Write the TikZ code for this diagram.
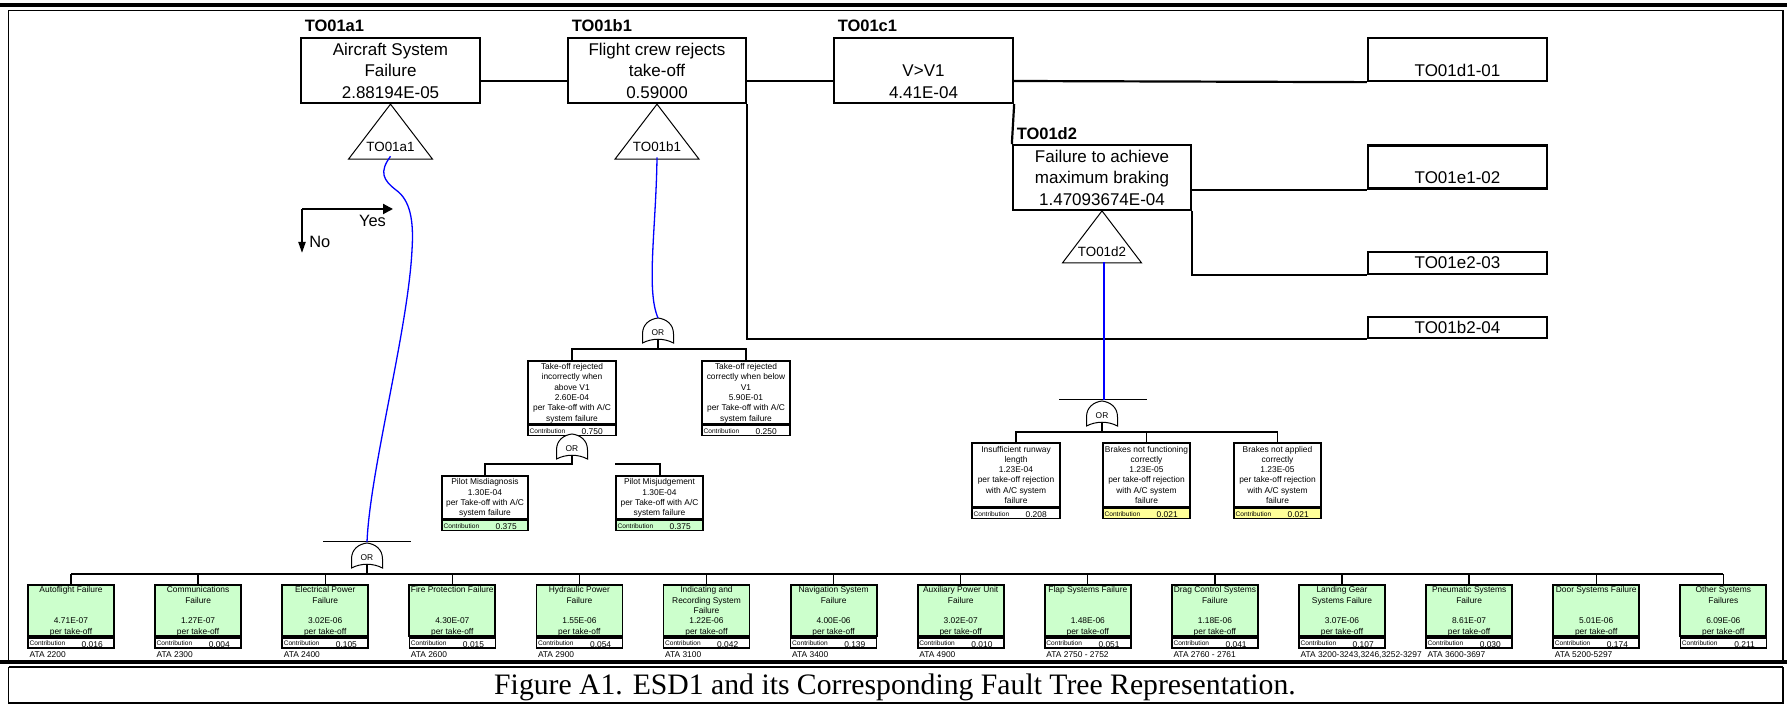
\documentclass[tikz,border=0pt]{standalone}
\usepackage{fontspec}
\setmainfont{Liberation Sans}
\newfontfamily\captionserif{Liberation Serif}
\usetikzlibrary{arrows.meta,calc}

\definecolor{cellgreen}{HTML}{CCFFCC}
\definecolor{cellyellow}{HTML}{FFFF99}
\definecolor{linkblue}{HTML}{0000FF}

\newcommand\fsz[2]{\fontsize{#1}{#2}\selectfont}
% strut that centres the capitals of a line inside its line slot
\newcommand\linestrut{\rule[-0.215\baselineskip]{0pt}{\baselineskip}}

\tikzset{
  event/.style={draw, line width=1.15pt, inner sep=0pt, align=center, font=\fsz{8.5pt}{10.75pt}},
  tag/.style={inner sep=0pt, anchor=base west, font=\bfseries\fsz{8.25pt}{10pt}},
  seq/.style={line width=1.1pt},
  transfer/.style={line width=0.5pt},
  trilabel/.style={inner sep=0pt, font=\fsz{6.7pt}{8pt}},
  cell/.style={draw, line width=0.9pt, inner sep=0pt, align=center, font=\fsz{4.2pt}{5.15pt}},
  crow/.style={draw, line width=0.8pt, inner sep=0pt},
  clabel/.style={inner sep=0pt, anchor=base west, font=\fsz{3.3pt}{4pt}},
  cvalue/.style={inner sep=0pt, anchor=base, font=\fsz{4.2pt}{5pt}},
  ata/.style={inner sep=0pt, anchor=base west, font=\fsz{4.2pt}{5pt}},
  wire/.style={line width=1pt},
  midwire/.style={line width=0.85pt},
  thinwire/.style={line width=0.65pt},
  bar/.style={line width=0.5pt},
  tree/.style={draw=linkblue, line width=0.65pt},
  legend/.style={inner sep=0pt, font=\fsz{8.2pt}{10pt}},
  orgate/.pic={
    \draw[line width=0.5pt, fill=white] (-15.5,0) -- (-15.5,-9)
      .. controls (-15.5,-19) and (-8,-24) .. (0,-25)
      .. controls (8,-24) and (15.5,-19) .. (15.5,-9) -- (15.5,0)
      .. controls (6,-5) and (-6,-5) .. cycle;
    \node[inner sep=0pt, font=\fsz{4.2pt}{5pt}] (-lbl) at (0,-10.5) {OR};
    \coordinate (-top) at (0,-25);
    \coordinate (-bar) at (0,-26);
    \coordinate (-out) at (0,-3.75);
  }
}

% #1 name, #2 x centre, #3 top, #4 width, #5 height of text part,
% #6 fill of text part, #7 fill of contribution row, #8 text, #9 contribution
\newcommand\cellbox[9]{%
  \node[cell, fill=#6, minimum width=#4*0.5pt, minimum height=#5*0.5pt, anchor=north] (#1) at (#2,#3) {#8};
  \node[crow, fill=#7, minimum width=#4*0.5pt, minimum height=5pt, anchor=north] (#1c) at (#1.south) {};
  \node[clabel] (#1l) at ($(#1c.south west)+(2,-3)$) {Contribution};
  \node[cvalue] (#1v) at ($(#1c.south west)+(65,-1.5)$) {#9};
}
% #1 name, #2 x centre, #3 title (three lines), #4 frequency, #5 contribution, #6 ATA chapter
\newcommand\sysbox[6]{%
  \cellbox{#1}{#2}{584}{86}{51}{cellgreen}{white}{#3\\\linestrut #4\\\linestrut per take-off}{#5}
  \node[ata] (#1a) at ($(#1c.south west)+(2,9)$) {#6};
}

\begin{document}
\begin{tikzpicture}[x=0.5pt, y=-0.5pt]
\useasboundingbox (0,0) rectangle (1787,704);

% ---------- frame ----------
\draw[line width=2pt] (0,5.5) -- (1787,5.5);
\draw[line width=0.65pt] (8.5,660) -- (8.5,10.7) -- (1783,10.7) -- (1783,660);
\draw[line width=2pt] (0,662) -- (1787,662);
\draw[line width=0.65pt] (8.5,667) -- (1783,667);
\draw[line width=0.65pt] (8.5,667) -- (8.5,703) -- (1783,703) -- (1783,667);
\node[inner sep=0pt, anchor=base, font=\captionserif\fsz{14.85pt}{17pt}] (cap) at (895,694)
  {Figure A1. ESD1 and its Corresponding Fault Tree Representation.};

% ---------- event sequence ----------
\node[event, minimum width=89.5pt, minimum height=32.5pt] (a) at (390.5,70.5)
  {\linestrut Aircraft System\\\linestrut Failure\\\linestrut 2.88194E-05};
\node[event, minimum width=89pt, minimum height=32.5pt] (b) at (657,70.5)
  {\linestrut Flight crew rejects\\\linestrut take-off\\\linestrut 0.59000};
\node[event, minimum width=89.5pt, minimum height=32.5pt] (c) at (923.5,70.5)
  {\linestrut\\\linestrut V>V1\\\linestrut 4.41E-04};
\node[event, minimum width=89pt, minimum height=31.5pt] (d) at (1102,177.5)
  {\linestrut Failure to achieve\\\linestrut maximum braking\\\linestrut 1.47093674E-04};

\node[event, minimum width=89.5pt, minimum height=21.5pt] (o1) at (1457.5,59.5) {\linestrut\\\linestrut TO01d1-01};
\node[event, minimum width=89.5pt, minimum height=21pt] (o2) at (1457.5,167) {\linestrut\\\linestrut TO01e1-02};
\node[event, minimum width=89.5pt, minimum height=11pt] (o3) at (1457.5,263) {TO01e2-03};
\node[event, minimum width=89.5pt, minimum height=10.5pt] (o4) at (1457.5,327.5) {TO01b2-04};

\node[tag] (la) at ($(a.north west)+(4.5,-5)$) {TO01a1};
\node[tag] (lb) at ($(b.north west)+(4.5,-5)$) {TO01b1};
\node[tag] (lc) at ($(c.north west)+(4.5,-5)$) {TO01c1};
\node[tag] (ld) at ($(d.north west)+(4.5,-5)$) {TO01d2};

\coordinate (seqy) at (0,81);
\draw[seq] (a.east |- seqy) -- (b.west |- seqy);
\draw[seq] (b.east |- seqy) -- (c.west |- seqy);
\draw[seq] (c.east |- seqy) -- (o1.south west);
\draw[seq] (c.south east) -- (d.north west);
\draw[seq] (d.east |- o2.south) -- (o2.south west);
\draw[seq] (d.south east) |- (o3.south west);
\draw[seq] (b.south east) |- (o4.south west);

% transfer triangles
\draw[transfer] (a.south) -- ++(-42,55) -- ++(84,0) -- cycle;
\node[trilabel] (ta) at ($(a.south)+(0,43)$) {TO01a1};
\draw[transfer] (b.south) -- ++(-42,55) -- ++(84,0) -- cycle;
\node[trilabel] (tb) at ($(b.south)+(0,43)$) {TO01b1};
\draw[transfer] (d.south) -- ++(-39.5,52) -- ++(79,0) -- cycle;
\node[trilabel] (td) at ($(d.south)+(0,41)$) {TO01d2};

% Yes / No legend
\coordinate (leg) at (302,209);
\coordinate (legyes) at (393,209);
\coordinate (legno) at (302,253);
\draw[line width=1pt, -{Triangle[length=5pt,width=5pt]}] (leg) -- (legyes);
\draw[line width=1pt, -{Triangle[length=5.5pt,width=3.5pt]}] (leg) -- (legno);
\node[legend, anchor=base] (yes) at (372.5,227) {Yes};
\node[legend, anchor=base west] (no) at (309,248) {No};

% ---------- fault tree: flight crew rejects take-off ----------
\cellbox{tri}{572}{360}{88}{63}{white}{white}
  {\linestrut Take-off rejected\\\linestrut incorrectly when\\\linestrut above V1\\\linestrut 2.60E-04\\\linestrut per Take-off with A/C\\\linestrut system failure}{0.750}
\cellbox{trc}{746}{360}{88}{63}{white}{white}
  {\linestrut Take-off rejected\\\linestrut correctly when below\\\linestrut V1\\\linestrut 5.90E-01\\\linestrut per Take-off with A/C\\\linestrut system failure}{0.250}
\cellbox{pmd}{485}{475}{86}{43}{white}{cellgreen}
  {\linestrut Pilot Misdiagnosis\\\linestrut 1.30E-04\\\linestrut per Take-off with A/C\\\linestrut system failure}{0.375}
\cellbox{pmj}{659.5}{475}{87}{43}{white}{cellgreen}
  {\linestrut Pilot Misjudgement\\\linestrut 1.30E-04\\\linestrut per Take-off with A/C\\\linestrut system failure}{0.375}

\pic (g1) at (658,343) {orgate};
\pic (g2) at (572,459) {orgate};

\coordinate (g1y) at (0,349);
\draw[wire] (g1-out) -- (g1-out |- g1y);
\draw[wire] (tri.north) -- (tri.north |- g1y) -- (trc.north |- g1y) -- (trc.north);
\coordinate (g2y) at (0,464);
\draw[wire] (g2-out) -- (g2-out |- g2y) -- (pmd.north |- g2y) -- (pmd.north);
\draw[wire] (pmj.north west |- g2y) -- (pmj.north |- g2y) -- (pmj.north);

\draw[tree] ($(tb.south)+(0,5)$) .. controls (656,230) and (646,290) .. (g1-top);

% ---------- fault tree: failure to achieve maximum braking ----------
\cellbox{irl}{1016}{442}{88}{64}{white}{white}
  {\linestrut Insufficient runway\\\linestrut length\\\linestrut 1.23E-04\\\linestrut per take-off rejection\\\linestrut with A/C system\\\linestrut failure}{0.208}
\cellbox{bnf}{1146.5}{442}{87}{64}{white}{cellyellow}
  {\linestrut Brakes not functioning\\\linestrut correctly\\\linestrut 1.23E-05\\\linestrut per take-off rejection\\\linestrut with A/C system\\\linestrut failure}{0.021}
\cellbox{bna}{1277.5}{442}{87}{64}{white}{cellyellow}
  {\linestrut Brakes not applied\\\linestrut correctly\\\linestrut 1.23E-05\\\linestrut per take-off rejection\\\linestrut with A/C system\\\linestrut failure}{0.021}

\pic (g3) at (1102,426) {orgate};
\coordinate (g3y) at (0,432);
\draw[midwire] (g3-out) -- (g3-out |- g3y);
\draw[midwire] (irl.north) -- (irl.north |- g3y) -- (bna.north |- g3y) -- (bna.north);
\draw[midwire] (bnf.north) -- (bnf.north |- g3y);
\draw[bar] ($(g3-bar)+(-43,0)$) -- ($(g3-bar)+(45,0)$);
\draw[tree] ($(td.south)+(2,5)$) -- ($(g3-bar)+(2,0)$);

% ---------- fault tree: aircraft system failure ----------
\sysbox{s0}{71}{\linestrut Autoflight Failure\\\linestrut\\\linestrut}{4.71E-07}{0.016}{ATA 2200}
\sysbox{s1}{198.1}{\linestrut Communications\\\linestrut Failure\\\linestrut}{1.27E-07}{0.004}{ATA 2300}
\sysbox{s2}{325.2}{\linestrut Electrical Power\\\linestrut Failure\\\linestrut}{3.02E-06}{0.105}{ATA 2400}
\sysbox{s3}{452.3}{\linestrut Fire Protection Failure\\\linestrut\\\linestrut}{4.30E-07}{0.015}{ATA 2600}
\sysbox{s4}{579.4}{\linestrut Hydraulic Power\\\linestrut Failure\\\linestrut}{1.55E-06}{0.054}{ATA 2900}
\sysbox{s5}{706.5}{\linestrut Indicating and\\\linestrut Recording System\\\linestrut Failure}{1.22E-06}{0.042}{ATA 3100}
\sysbox{s6}{833.6}{\linestrut Navigation System\\\linestrut Failure\\\linestrut}{4.00E-06}{0.139}{ATA 3400}
\sysbox{s7}{960.7}{\linestrut Auxiliary Power Unit\\\linestrut Failure\\\linestrut}{3.02E-07}{0.010}{ATA 4900}
\sysbox{s8}{1087.8}{\linestrut Flap Systems Failure\\\linestrut\\\linestrut}{1.48E-06}{0.051}{ATA 2750 - 2752}
\sysbox{s9}{1214.9}{\linestrut Drag Control Systems\\\linestrut Failure\\\linestrut}{1.18E-06}{0.041}{ATA 2760 - 2761}
\sysbox{s10}{1342}{\linestrut Landing Gear\\\linestrut Systems Failure\\\linestrut}{3.07E-06}{0.107}{ATA 3200-3243,3246,3252-3297}
\sysbox{s11}{1469.1}{\linestrut Pneumatic Systems\\\linestrut Failure\\\linestrut}{8.61E-07}{0.030}{ATA 3600-3697}
\sysbox{s12}{1596.2}{\linestrut Door Systems Failure\\\linestrut\\\linestrut}{5.01E-06}{0.174}{ATA 5200-5297}
\sysbox{s13}{1723.3}{\linestrut Other Systems\\\linestrut Failures\\\linestrut}{6.09E-06}{0.211}{}

\pic (g4) at (367,568) {orgate};
\coordinate (g4y) at (0,574);
\draw[thinwire] (g4-out) -- (g4-out |- g4y);
\draw[thinwire] (s0.north |- g4y) -- (s13.north |- g4y);
\foreach \k in {0,...,13} { \draw[thinwire] (s\k.north) -- (s\k.north |- g4y); }
\draw[bar] ($(g4-bar)+(-44,0)$) -- ($(g4-bar)+(44,0)$);

\draw[tree] ($(ta.south)+(0,4)$) .. controls (379,172) and (383,180) .. (396,190)
  .. controls (410,200) and (414,220) .. (412,250)
  .. controls (408,330) and (370,470) .. (g4-bar);
\end{tikzpicture}
\end{document}
